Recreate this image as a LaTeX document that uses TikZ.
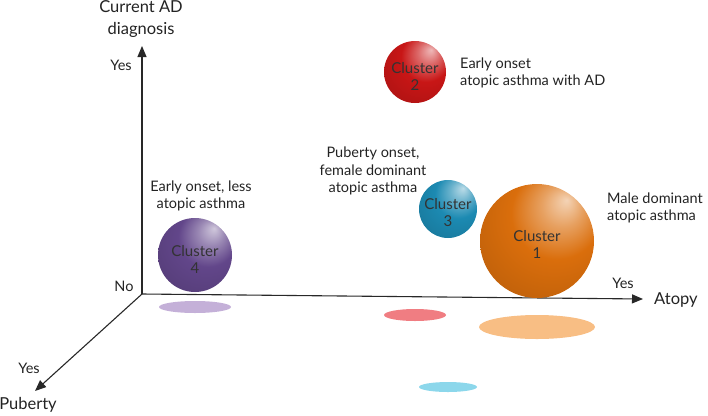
\documentclass[tikz,border=0pt]{standalone}
\usepackage{fontspec}
\setmainfont{Lato}
\usetikzlibrary{arrows.meta}
\definecolor{axisc}{RGB}{40,40,40}
\definecolor{txt}{RGB}{35,35,35}
\definecolor{cone}{RGB}{218,110,12}
\definecolor{ctwo}{RGB}{200,22,22}
\definecolor{cthree}{RGB}{28,138,178}
\definecolor{cfour}{RGB}{98,70,138}
\definecolor{shone}{RGB}{248,190,132}
\definecolor{shtwo}{RGB}{240,125,130}
\definecolor{shthree}{RGB}{140,215,235}
\definecolor{shfour}{RGB}{196,176,216}
\newcommand\mkball[2]{\pgfdeclareradialshading{ball#1}{\pgfpoint{13bp}{18bp}}{color(0bp)=(#2!30!white); color(9bp)=(#2!65!white); color(20bp)=(#2); color(45bp)=(#2!82!black); color(60bp)=(#2!55!black)}}
\mkball{one}{cone}
\mkball{two}{ctwo}
\mkball{three}{cthree}
\mkball{four}{cfour}
\begin{document}
\begin{tikzpicture}[x=1pt,y=-1pt,
  axisline/.style={line width=1.1pt,draw=axisc,-{Triangle[length=11pt,width=9pt]}},
  lbl/.style={font=\fontsize{14.5}{17.5}\selectfont,text=txt,inner sep=0pt},
  axlbl/.style={font=\fontsize{16.5}{20}\selectfont,text=txt,inner sep=0pt},
  ballnode/.style={font=\fontsize{15}{17}\selectfont,text=black!80,align=center,inner sep=0pt}]
\useasboundingbox (0,0) rectangle (708,415);
% shadows
\fill[shfour] (195,307) ellipse [x radius=36pt,y radius=6pt];
\fill[shtwo] (415,315) ellipse [x radius=31pt,y radius=6pt];
\fill[shone] (537,327) ellipse [x radius=58pt,y radius=12pt];
\fill[shthree] (448,387) ellipse [x radius=29pt,y radius=5pt];
% axes
\coordinate (O) at (142,294);
\coordinate (ytip) at (142,46);
\coordinate (xtip) at (643,299);
\coordinate (ztip) at (35,391);
\draw[axisline] (O) -- (ytip);
\draw[axisline] (O) -- (xtip);
\draw[axisline] (O) -- (ztip);
% axis labels
\node[axlbl,align=center] (curAD) at (141,19) {Current AD\\[2pt]diagnosis};
\node[lbl] (yesY) at (121,65) {Yes};
\node[lbl] (noY) at (124,286) {No};
\node[lbl] (yesX) at (623,283) {Yes};
\node[axlbl,anchor=west] (atopy) at (654,300) {Atopy};
\node[lbl] (yesZ) at (29,368) {Yes};
\node[axlbl] (puberty) at (28,405) {Puberty};
% spheres
\shade[shading=ballfour] (195,255) circle [radius=37pt];
\node[ballnode] (c4) at (195,259) {Cluster\\4};
\shade[shading=balltwo] (415,72) circle [radius=31pt];
\node[ballnode] (c2) at (415,76) {Cluster\\2};
\shade[shading=ballthree] (448,209) circle [radius=29pt];
\node[ballnode] (c3) at (448,213) {Cluster\\3};
\shade[shading=ballone] (537,241) circle [radius=57pt];
\node[ballnode] (c1) at (537,244) {Cluster\\1};
% descriptions
\node[lbl,align=left,anchor=west] (d2) at (460,73) {Early onset\\atopic asthma with AD};
\node[lbl,align=center] (d3) at (373,171) {Puberty onset,\\female dominant\\atopic asthma};
\node[lbl,align=center] (d4) at (201,196) {Early onset, less\\atopic asthma};
\node[lbl,align=left,anchor=west] (d1) at (607,208) {Male dominant\\atopic asthma};
\end{tikzpicture}
\end{document}
